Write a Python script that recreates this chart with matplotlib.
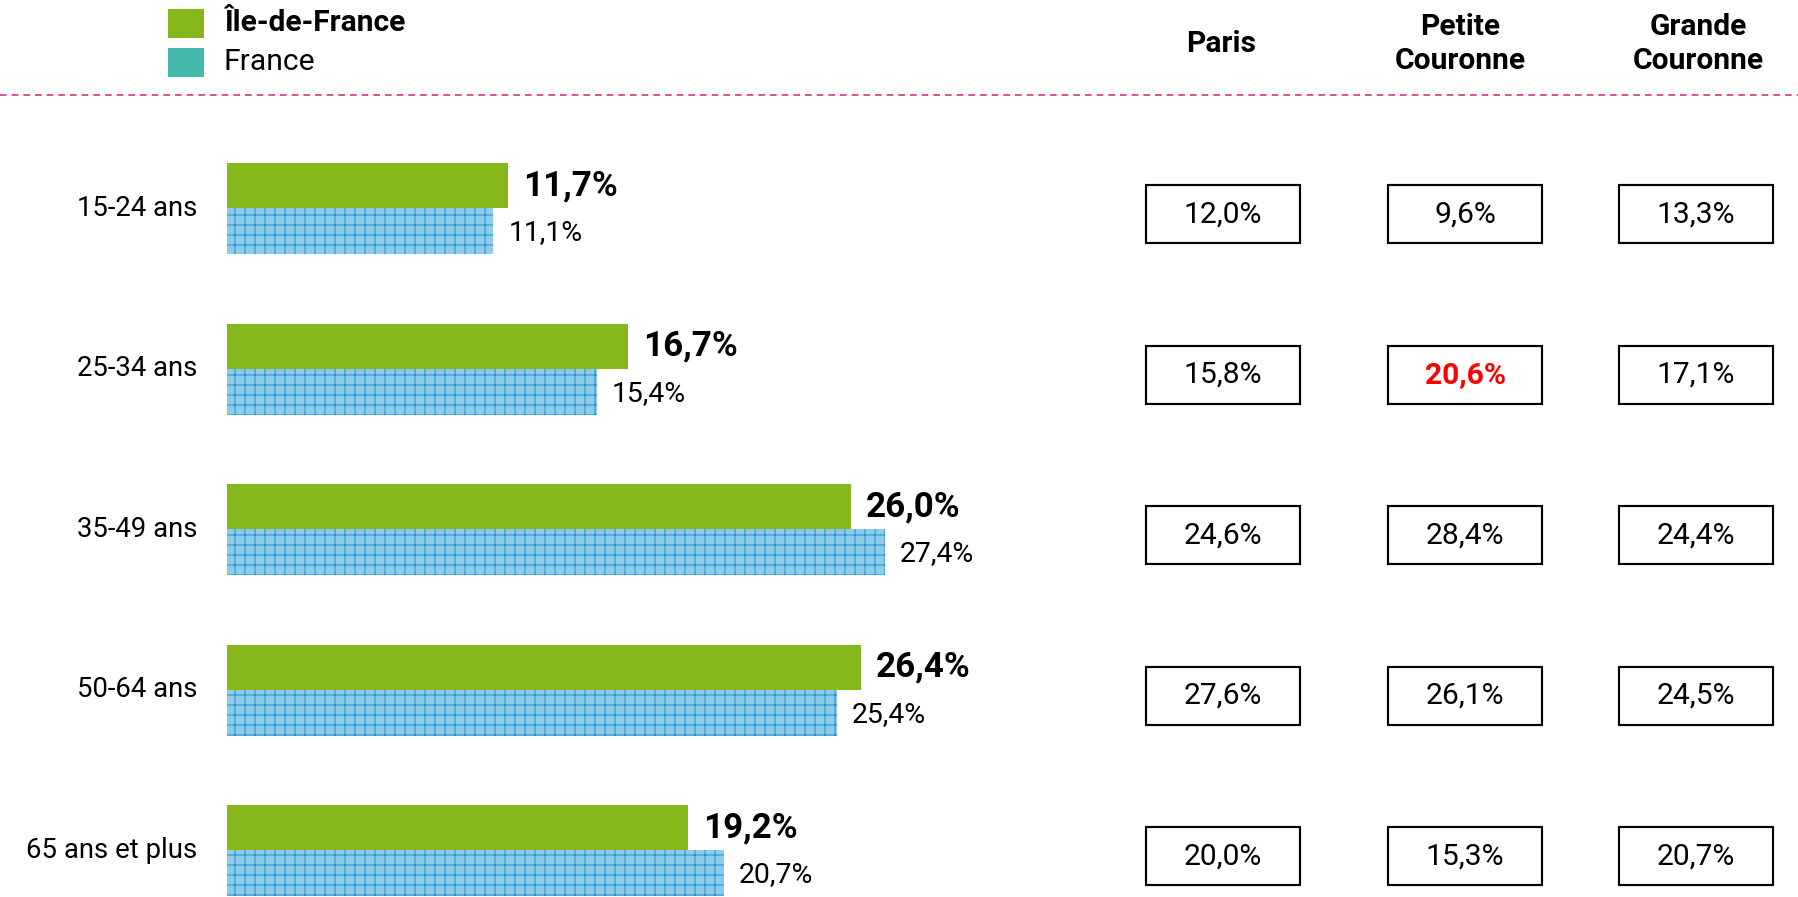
import matplotlib.pyplot as plt
from matplotlib.patches import Rectangle

plt.rcParams['font.family'] = ['Roboto', 'DejaVu Sans']
plt.rcParams['hatch.linewidth'] = 0.6

# données
ages = ["15-24 ans", "25-34 ans", "35-49 ans", "50-64 ans", "65 ans et plus"]
idf = [11.7, 16.7, 26.0, 26.4, 19.2]
france = [11.1, 15.4, 27.4, 25.4, 20.7]
zones = ["Paris", "Petite\nCouronne", "Grande\nCouronne"]
paris = [12.0, 15.8, 24.6, 27.6, 20.0]
petite = [9.6, 20.6, 28.4, 26.1, 15.3]
grande = [13.3, 17.1, 24.4, 24.5, 20.7]

W, H = 1798, 897
fig = plt.figure(figsize=(W / 120, H / 120), dpi=120)

def fmt(v):
    return f"{v:.1f}%".replace(".", ",")

# axe des barres : 24 px par point de %, 160.5 px par groupe
top = 128
gh = 160.5
ax = fig.add_axes([227 / W, (H - top - 5 * gh) / H, 960 / W, 5 * gh / H])
ax.set_xlim(0, 40)
ax.set_ylim(4.5, -0.5)
ax.axis('off')

y = list(range(len(ages)))
hg = 45 / gh
hf = 46 / gh
ax.barh([i - hg for i in y], idf, height=hg, align='edge', color='#86b81b', linewidth=0)
ax.barh(y, france, height=hf, align='edge', color='#8dcbeb', edgecolor='#1e92d2',
        hatch='++', linewidth=0)

for i in y:
    ax.text(-30 / 24, i, ages[i], ha='right', va='center', fontsize=16.5)
    ax.text(idf[i] + 15 / 24, i - hg / 2, fmt(idf[i]), ha='left', va='center',
            fontsize=21, fontweight='bold')
    ax.text(france[i] + 15 / 24, i + hf / 2 + 0.01, fmt(france[i]), ha='left', va='center',
            fontsize=17)

# tableau de droite
tab = fig.add_axes(ax.get_position().bounds)
tab.set_position([0, ax.get_position().y0, 1, ax.get_position().height])
tab.set_xlim(0, W)
tab.set_ylim(4.5, -0.5)
tab.axis('off')

cols_x = [1223, 1465, 1696]
bw = 154
bh = 58 / gh
for c, vals in enumerate([paris, petite, grande]):
    for i in y:
        yc = i + 6 / gh
        tab.add_patch(Rectangle((cols_x[c] - bw / 2, yc - bh / 2), bw, bh,
                                facecolor='white', edgecolor='black', linewidth=1.3))
        red = (c == 1 and i == 1)
        tab.text(cols_x[c], yc, fmt(vals[i]), ha='center', va='center', fontsize=18,
                 color='#ff0000' if red else 'black',
                 fontweight='bold' if red else 'normal')

# en-têtes
head_x = [1221, 1460, 1698]
for c, z in enumerate(zones):
    fig.text(head_x[c] / W, 1 - 44 / H, z, ha='center', va='center', fontsize=18,
             fontweight='bold', linespacing=1.3)

# ligne pointillée
fig.add_artist(plt.Line2D([0, 1], [1 - 95 / H, 1 - 95 / H], transform=fig.transFigure,
                          color='#d63384', linewidth=1, linestyle=(0, (4, 3))))

# légende
fig.add_artist(Rectangle((168 / W, 1 - 38 / H), 36 / W, 29 / H, transform=fig.transFigure,
                         facecolor='#86b81b', linewidth=0))
fig.add_artist(Rectangle((168 / W, 1 - 77 / H), 36 / W, 29 / H, transform=fig.transFigure,
                         facecolor='#45b8ac', linewidth=0))
fig.text(224 / W, 1 - 23 / H, "Île-de-France", ha='left', va='center', fontsize=18,
         fontweight='bold')
fig.text(224 / W, 1 - 62 / H, "France", ha='left', va='center', fontsize=18)

fig.savefig("out.png", dpi=120)
